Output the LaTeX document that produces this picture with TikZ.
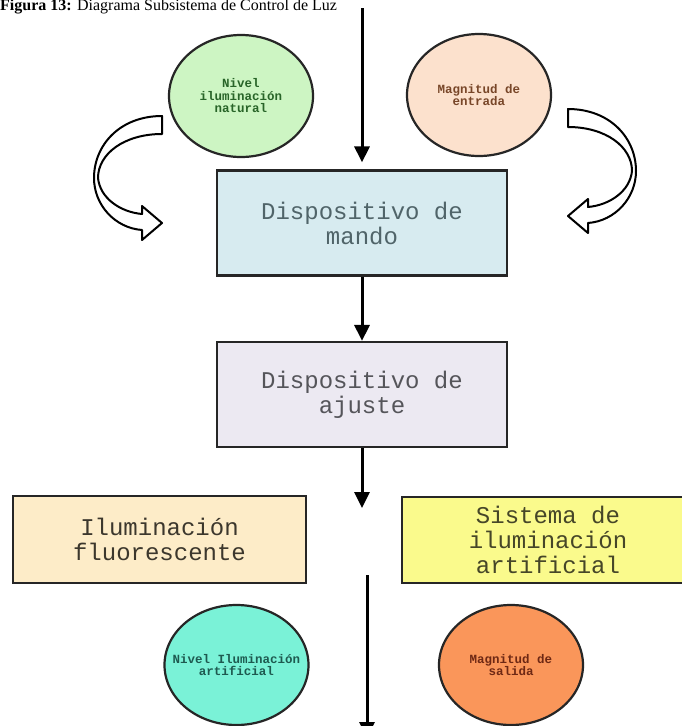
\documentclass[tikz,border=0pt]{standalone}
\usepackage{fontspec}
\setmainfont{Liberation Serif}
\setmonofont{Liberation Mono}
\usetikzlibrary{shapes.geometric, arrows.meta}

\definecolor{naturalgreen}{RGB}{205,245,195}
\definecolor{entradapeach}{RGB}{252,225,205}
\definecolor{mandoblue}{RGB}{215,235,240}
\definecolor{ajustelilac}{RGB}{236,233,242}
\definecolor{fluobeige}{RGB}{253,236,200}
\definecolor{sistemayellow}{RGB}{250,250,140}
\definecolor{artificialcyan}{RGB}{122,242,215}
\definecolor{salidaorange}{RGB}{250,150,90}
\definecolor{mandotext}{RGB}{80,100,105}
\definecolor{ajustetext}{RGB}{85,85,90}
\definecolor{fluotext}{RGB}{60,55,45}
\definecolor{sistematext}{RGB}{70,70,40}

\begin{document}
\begin{tikzpicture}[x=1pt, y=-1pt,
          % Base node styles
          box/.style={rectangle, draw=black!85, line width=2.2pt, align=center, inner sep=2pt, minimum width=290pt, minimum height=105pt, font=\ttfamily\fontsize{24}{25}\selectfont},
          bubble/.style={ellipse, draw=black!85, line width=2.2pt, align=center, inner sep=-14pt, minimum width=144pt, minimum height=122pt, font=\ttfamily\bfseries\fontsize{12.5}{12.5}\selectfont},
          % Specific styles based on the image's color scheme
          mandobox/.style={box, fill=mandoblue, text=mandotext},
          ajustebox/.style={box, fill=ajustelilac, text=ajustetext},
          fluobox/.style={box, fill=fluobeige, text=fluotext, minimum width=293pt, minimum height=87pt},
          sistemabox/.style={box, fill=sistemayellow, text=sistematext, minimum width=292pt, minimum height=86pt},
          % Arrow styles
          flow/.style={-{Triangle[length=16pt, width=15pt]}, line width=3pt},
          bendarrow/.pic={
            \draw[line width=2pt, fill=white, line join=round]
              (0,0) .. controls (-42,0) and (-68,29) .. (-68,62)
              .. controls (-68,89) and (-47,112) .. (-20,114)
              -- (-20,124) -- (0,107) -- (-20,90) -- (-20,98)
              .. controls (-42,96) and (-62,82) .. (-64,62)
              .. controls (-64,38) and (-38,18) .. (0,18) -- cycle;
          }
        ]
          \path[fill=white, use as bounding box] (0,0) rectangle (681,726);
          \node[anchor=base west, inner sep=0pt, font=\fontsize{16}{16}\selectfont] (title) at (0,10) {\textbf{Figura 13:} Diagrama Subsistema de Control de Luz};

          % ==========================================
          % 1. Inputs
          % ==========================================
          \node[bubble, fill=naturalgreen, text={rgb,255:red,40;green,100;blue,40}] (natural) at (241,96) {Nivel\\iluminación\\natural};
          \node[bubble, fill=entradapeach, text={rgb,255:red,120;green,70;blue,40}] (entrada) at (479,95) {Magnitud de\\entrada};

          \pic at (162,116) {bendarrow};
          \pic[xscale=-1] at (568,109) {bendarrow};

          % ==========================================
          % 2. Devices
          % ==========================================
          \node[mandobox] (mando) at (362,223) {Dispositivo de\\mando};
          \node[ajustebox] (ajuste) at (362,394.5) {Dispositivo de\\ajuste};

          % ==========================================
          % 3. Lighting and outputs
          % ==========================================
          \node[fluobox] (fluorescente) at (159.5,539.5) {Iluminación\\fluorescente};
          \node[sistemabox] (sistema) at (548,540) {Sistema de\\iluminación\\artificial};

          \node[bubble, fill=artificialcyan, minimum height=120pt, text={rgb,255:red,30;green,90;blue,80}] (artificial) at (236.5,665) {Nivel Iluminación\\artificial};
          \node[bubble, fill=salidaorange, minimum height=120pt, text={rgb,255:red,110;green,40;blue,20}] (salida) at (511,665) {Magnitud de\\salida};

          % ==========================================
          % 4. Flow
          % ==========================================
          \coordinate (entry) at (362,8);
          \coordinate (gap) at (362,508);
          \coordinate (outstart) at (367,575);
          \coordinate (outend) at (367,738);

          \draw[flow, shorten >=7pt] (entry) -- (mando);
          \draw[flow] (mando) -- (ajuste);
          \draw[flow] (ajuste) -- (gap);
          \draw[flow] (outstart) -- (outend);
        \end{tikzpicture}
\end{document}
